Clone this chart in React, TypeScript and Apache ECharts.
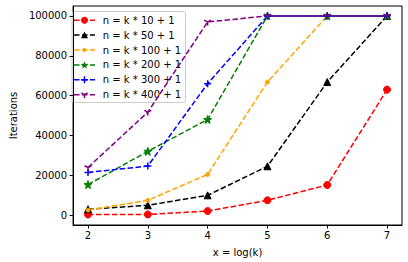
import React, { useEffect, useRef } from "react";
import * as echarts from "echarts";

const xValues = [2, 3, 4, 5, 6, 7];
const xTicks = [2, 3, 4, 5, 6, 7];
const yTicks = [0, 20000, 40000, 60000, 80000, 100000];

const seriesNames = [
  "n = k * 10 + 1",
  "n = k * 50 + 1",
  "n = k * 100 + 1",
  "n = k * 200 + 1",
  "n = k * 300 + 1",
  "n = k * 400 + 1",
];
const red10 = [300, 300, 2000, 7400, 15100, 63000];
const black50 = [2900, 4900, 9900, 24500, 66800, 100000];
const orange100 = [2500, 7400, 20400, 66800, 100000, 100000];
const green200 = [15300, 32000, 48000, 100000, 100000, 100000];
const blue300 = [21400, 24600, 66000, 100000, 100000, 100000];
const purple400 = [23900, 51700, 97000, 100000, 100000, 100000];

function starPts(cx: number, cy: number, R: number, r: number): number[][] {
  const pts: number[][] = [];
  for (let i = 0; i < 10; i++) {
    const rr = i % 2 === 0 ? R : r;
    const a = -Math.PI / 2 + (i * Math.PI) / 5;
    pts.push([cx + rr * Math.cos(a), cy + rr * Math.sin(a)]);
  }
  return pts;
}
function starPath(): string {
  const pts = starPts(10, 10, 10, 4.2);
  return "path://M" + pts.map((p) => `${p[0].toFixed(2)} ${p[1].toFixed(2)}`).join(" L") + " Z";
}

const FONT = "DejaVu Sans";

export default function App() {
  const ref = useRef<HTMLDivElement>(null);
  useEffect(() => {
    if (!ref.current) return;
    const chart = echarts.init(ref.current, undefined, { renderer: "svg" });
    const dash = [5.55, 2.4];
    const datasets = [red10, black50, orange100, green200, blue300, purple400];
    const colors = ["#ff0000", "#000000", "#ffa500", "#008000", "#0000ff", "#800080"];
    const symbols = [
      "circle",
      "triangle",
      "circle",
      starPath(),
      "path://M0 5 L10 5 M5 0 L5 10",
      "path://M5 5 L5 10 M5 5 L0.67 2.5 M5 5 L9.33 2.5 M5 0 L5 0",
    ];
    const sizes = [7, 7, 4, 8, 7, 7];
    const strokeOnly = [false, false, false, false, true, true];
    const series = datasets.map((d, i) => ({
      name: seriesNames[i],
      type: "line",
      data: xValues.map((x, j) => [x, d[j]]),
      symbol: symbols[i],
      symbolSize: sizes[i],
      showAllSymbol: true,
      lineStyle: { color: colors[i], width: 1.5, type: dash },
      itemStyle: strokeOnly[i]
        ? { color: "none", borderColor: colors[i], borderWidth: 1.5 }
        : { color: colors[i], borderColor: colors[i], borderWidth: 1 },
      emphasis: { disabled: true },
    }));

    // manual legend (matplotlib style)
    const lgLeft = 72;
    const lgTop = 11.5;
    const rowH = 14.9;
    const firstY = 20.2;
    const children: any[] = [
      {
        type: "rect",
        shape: { x: lgLeft, y: lgTop, width: 113.5, height: 91, r: 2 },
        style: { fill: "rgba(255,255,255,0.8)", stroke: "#cccccc", lineWidth: 1 },
      },
    ];
    seriesNames.forEach((name, i) => {
      const cy = firstY + i * rowH;
      const c = colors[i];
      children.push({
        type: "line",
        shape: { x1: 74, y1: cy, x2: 95, y2: cy },
        style: { stroke: c, lineWidth: 1.5, lineDash: dash },
      });
      const mx = 84.5;
      if (i === 0) {
        children.push({ type: "circle", shape: { cx: mx, cy, r: 3.5 }, style: { fill: c } });
      } else if (i === 1) {
        children.push({
          type: "polygon",
          shape: { points: [[mx, cy - 3.7], [mx - 3.5, cy + 3.2], [mx + 3.5, cy + 3.2]] },
          style: { fill: c },
        });
      } else if (i === 2) {
        children.push({ type: "circle", shape: { cx: mx, cy, r: 2 }, style: { fill: c } });
      } else if (i === 3) {
        children.push({ type: "polygon", shape: { points: starPts(mx, cy + 0.3, 4, 1.7) }, style: { fill: c } });
      } else if (i === 4) {
        children.push({ type: "line", shape: { x1: mx - 3.5, y1: cy, x2: mx + 3.5, y2: cy }, style: { stroke: c, lineWidth: 1.5 } });
        children.push({ type: "line", shape: { x1: mx, y1: cy - 3.5, x2: mx, y2: cy + 3.5 }, style: { stroke: c, lineWidth: 1.5 } });
      } else {
        children.push({ type: "line", shape: { x1: mx, y1: cy, x2: mx, y2: cy + 3.5 }, style: { stroke: c, lineWidth: 1.5 } });
        children.push({ type: "line", shape: { x1: mx, y1: cy, x2: mx - 3.1, y2: cy - 1.8 }, style: { stroke: c, lineWidth: 1.5 } });
        children.push({ type: "line", shape: { x1: mx, y1: cy, x2: mx + 3.1, y2: cy - 1.8 }, style: { stroke: c, lineWidth: 1.5 } });
      }
      children.push({
        type: "text",
        style: {
          text: name,
          x: 102.7,
          y: cy,
          verticalAlign: "middle",
          align: "left",
          font: `10px "${FONT}"`,
          fill: "#000",
        },
      });
    });

    chart.setOption({
      animation: false,
      textStyle: { fontFamily: FONT },
      grid: {
        left: 66,
        right: 6,
        top: 6,
        bottom: 37,
        show: true,
        borderColor: "#000",
        borderWidth: 1,
        backgroundColor: "transparent",
      },
      graphic: [{ type: "group", z: 100, children }],
      xAxis: {
        type: "value",
        min: 1.75,
        max: 7.25,
        name: "x = log(k)",
        nameLocation: "middle",
        nameGap: 22,
        nameTextStyle: { fontFamily: FONT, fontSize: 10, color: "#000" },
        axisLine: { show: true, onZero: false, lineStyle: { color: "#000", width: 1 } },
        axisTick: { show: true, length: 3.5, lineStyle: { color: "#000" }, customValues: xTicks },
        axisLabel: {
          fontFamily: FONT,
          fontSize: 10,
          color: "#000",
          margin: 5,
          customValues: xTicks,
          formatter: (v: number) => String(v),
        },
        splitLine: { show: false },
      },
      yAxis: {
        type: "value",
        min: -5000,
        max: 105000,
        name: "Iterations",
        nameLocation: "middle",
        nameRotate: 90,
        nameGap: 49,
        nameTextStyle: { fontFamily: FONT, fontSize: 10, color: "#000" },
        axisLine: { show: true, onZero: false, lineStyle: { color: "#000", width: 1 } },
        axisTick: { show: true, length: 3.5, lineStyle: { color: "#000" }, customValues: yTicks },
        axisLabel: {
          fontFamily: FONT,
          fontSize: 10,
          color: "#000",
          margin: 6,
          customValues: yTicks,
          formatter: (v: number) => String(v),
        },
        splitLine: { show: false },
      },
      series,
    });
    return () => chart.dispose();
  }, []);
  return <div ref={ref} style={{ width: 408, height: 262, position: "absolute", left: 0, top: 0 }} />;
}
